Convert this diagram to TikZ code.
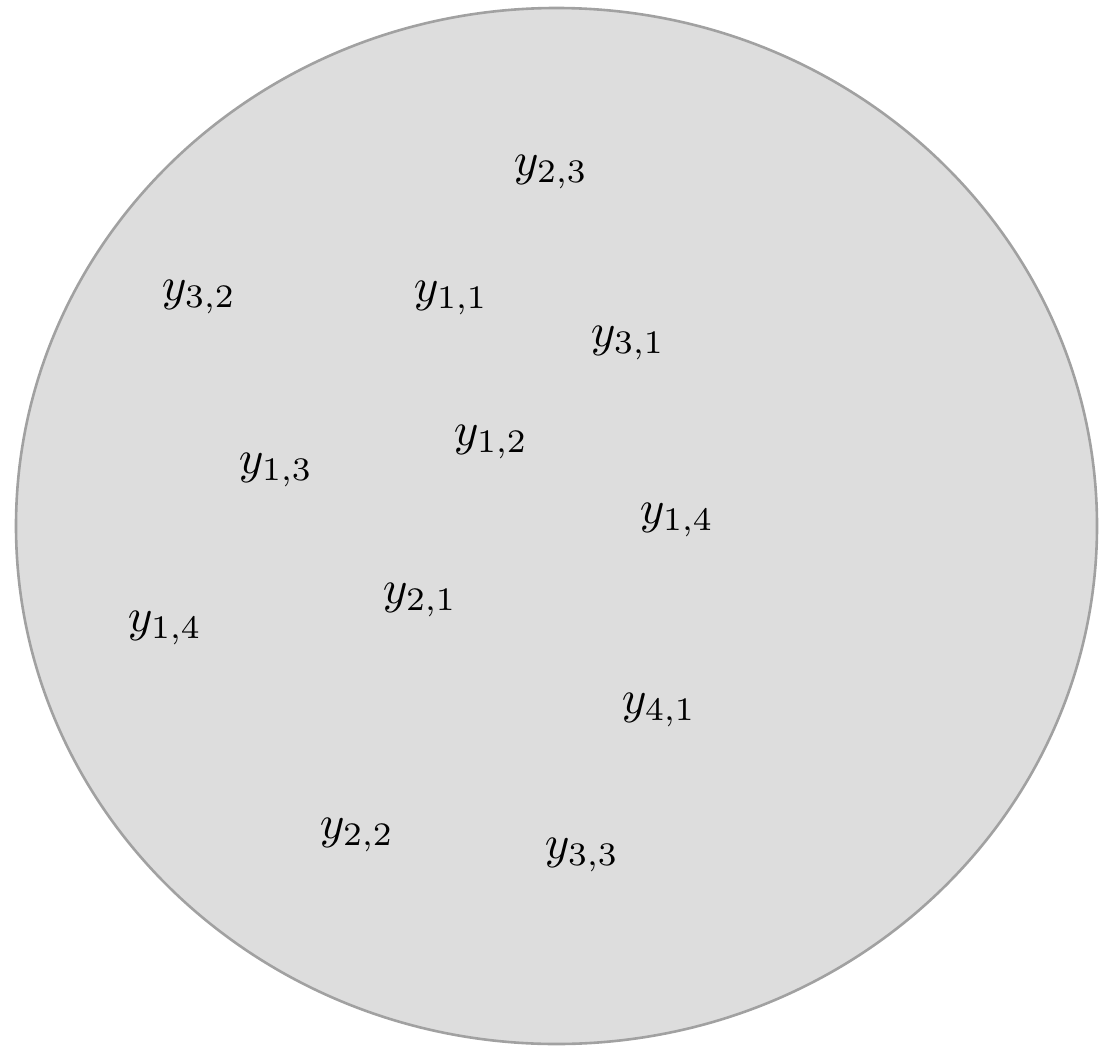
\documentclass[tikz,border=0pt]{standalone}
\begin{document}
\begin{tikzpicture}[x=1pt,y=-1pt]
 \tikzset{lbl/.style={scale=4.7}}
 \useasboundingbox (0,0) rectangle (1099,1049);
 \draw[line width=2.6pt,draw=black!37,fill=black!13.5] (556.5,526) ellipse (540.5 and 518);
 % labels
 \node[lbl] (y23) at (551,172) {$y_{2,3}$};
 \node[lbl] (y32) at (199,297) {$y_{3,2}$};
 \node[lbl] (y11) at (451,298) {$y_{1,1}$};
 \node[lbl] (y31) at (628,343) {$y_{3,1}$};
 \node[lbl] (y12) at (491,442) {$y_{1,2}$};
 \node[lbl] (y13) at (276,470) {$y_{1,3}$};
 \node[lbl] (y14a) at (677,520) {$y_{1,4}$};
 \node[lbl] (y21) at (420,600) {$y_{2,1}$};
 \node[lbl] (y14b) at (165,628) {$y_{1,4}$};
 \node[lbl] (y41) at (659,710) {$y_{4,1}$};
 \node[lbl] (y22) at (357,835) {$y_{2,2}$};
 \node[lbl] (y33) at (582,855) {$y_{3,3}$};
\end{tikzpicture}
\end{document}
